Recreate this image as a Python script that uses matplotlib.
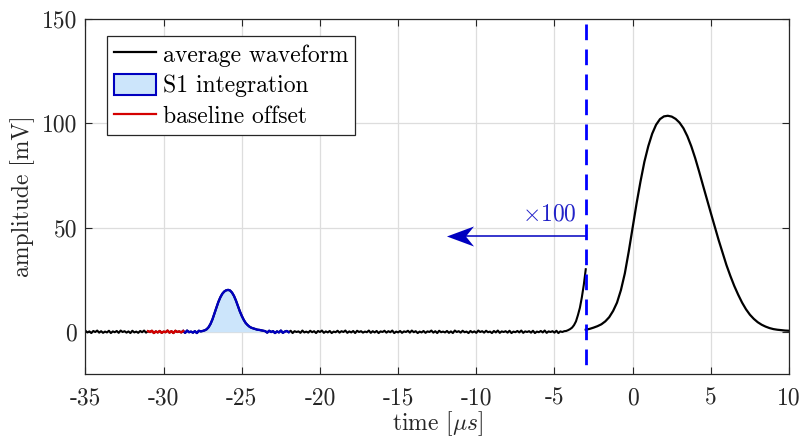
import matplotlib
matplotlib.use("Agg")
import matplotlib.pyplot as plt
import numpy as np
from matplotlib.patches import Patch
from matplotlib.lines import Line2D
from matplotlib.path import Path
from matplotlib.transforms import ScaledTranslation

plt.rcParams["font.family"] = "serif"
plt.rcParams["font.serif"] = ["cmr10"]
plt.rcParams["mathtext.fontset"] = "cm"
plt.rcParams["axes.unicode_minus"] = False
plt.rcParams["lines.scale_dashes"] = False

FS = 17

# pre-trigger part (-35 .. -3 us), shown x100, sampled every 0.125 us
PRE_START = -35.0
PRE_STEP = 0.125

# baseline noise, -35 .. -27.625 us
noise_a = [
    0.5, -0.3, 0.2, -0.6, 0.4, -0.1, 0.6, -0.4, 0.3, -0.5,
    0.1, -0.3, 0.5, -0.6, 0.2, -0.2, 0.4, -0.5, 0.6, -0.1,
    0.3, -0.4, 0.2, -0.6, 0.5, -0.3, 0.1, -0.5, 0.4, -0.2,
    0.6, -0.4, 0.3, -0.1, 0.5, -0.6, 0.2, -0.3, 0.4, -0.5,
    0.1, -0.2, 0.6, -0.4, 0.3, -0.6, 0.5, -0.1, 0.2, -0.3,
    0.4, -0.5, 0.6, -0.2, 0.1, -0.4, 0.3, -0.6, 0.5, 0.2,
]
# S1 pulse, -27.5 .. -23.5 us
s1_pulse = [
    0.4, 0.7, 1.2, 2.2, 3.8, 6.0, 8.8, 11.6, 14.3, 16.5, 18.2, 19.3, 19.9,
    20.1, 19.8, 18.8, 17.2, 15.0, 12.4, 9.8, 7.6, 5.7, 4.2, 3.2, 2.4, 1.9,
    1.6, 1.3, 1.0, 0.9, 0.7, 0.5, 0.3,
]
# baseline noise, -23.375 .. -4.375 us
noise_b = [
    -0.4, 0.5, -0.1, 0.3, -0.6, 0.2, -0.3, 0.6, -0.5, 0.1,
    0.4, -0.2, 0.5, -0.6, 0.3, -0.1, 0.2, -0.5, 0.6, -0.3,
    0.1, -0.4, 0.5, -0.2, 0.3, -0.6, 0.4, -0.1, 0.6, -0.5,
    0.2, -0.3, 0.4, -0.6, 0.1, -0.2, 0.5, -0.4, 0.3, -0.1,
    0.6, -0.5, 0.2, -0.3, 0.4, -0.6, 0.5, -0.1, 0.3, -0.4,
    0.1, -0.2, 0.6, -0.5, 0.3, -0.3, 0.4, -0.6, 0.2, -0.1,
    0.5, -0.4, 0.3, -0.2, 0.6, -0.6, 0.1, -0.3, 0.4, -0.5,
    0.2, -0.1, 0.5, -0.4, 0.6, -0.2, 0.3, -0.6, 0.1, -0.3,
    0.4, -0.5, 0.2, -0.1, 0.6, -0.4, 0.3, -0.6, 0.5, -0.2,
    0.1, -0.3, 0.4, -0.5, 0.2, -0.6, 0.6, -0.1, 0.3, -0.4,
    0.5, -0.2, 0.1, -0.6, 0.4, -0.3, 0.2, -0.5, 0.6, -0.1,
    0.3, -0.4, 0.5, -0.2, 0.1, -0.6, 0.4, -0.3, 0.6, -0.5,
    0.2, -0.1, 0.3, -0.4, 0.5, -0.6, 0.1, -0.2, 0.4, -0.3,
    0.6, -0.5, 0.2, -0.1, 0.3, -0.4, 0.5, -0.6, 0.1, -0.2,
    0.4, -0.3, 0.6, -0.5, 0.2, -0.1, 0.3, -0.4, 0.5, -0.6,
    0.2, -0.1, 0.3,
]
# start of main pulse seen x100, -4.25 .. -3 us
rise = [0.4, 0.8, 1.3, 2.0, 3.2, 5.0, 8.0, 11.5, 16.5, 22.5, 30.0]

# main pulse (unscaled), -3 .. 10 us every 0.25 us
POST_START = -3.0
POST_STEP = 0.25
post_amp = [
    1.0, 1.4, 2.0, 2.7, 3.6, 5.0, 7.0, 10.0, 14.0, 20.0, 28.0, 38.5,
    50.0, 61.5, 72.0, 81.5, 89.0, 95.0, 99.3, 102.0, 103.3, 103.6, 103.2, 102.1,
    100.3, 97.6, 93.8, 89.0, 83.3, 76.9, 70.2, 63.6, 57.0, 50.5, 44.0, 38.0,
    32.0, 26.8, 22.0, 17.8, 14.0, 10.8, 8.2, 6.2, 4.6, 3.4, 2.5, 1.8,
    1.3, 1.0, 0.8, 0.6, 0.5,
]

BASELINE_WIN = (-31.0, -28.75)
S1_WIN = (-28.75, -22.0)
S1_FILL = (-27.5, -23.75)
SCALE_T = -3.0
ARROW_Y = 46
ARROW_TIP = -11.9

pre_amp = np.array(noise_a + s1_pulse + noise_b + rise)
pre_time = PRE_START + PRE_STEP * np.arange(len(pre_amp))
post_time = POST_START + POST_STEP * np.arange(len(post_amp))

fig = plt.figure(figsize=(8.01, 4.37), dpi=100)
ax = fig.add_axes([0.1067, 0.1453, 0.8783, 0.8112])

ax.plot(pre_time, pre_amp, color="k", lw=1.5)
ax.plot(post_time, post_amp, color="k", lw=1.6)

fm = (pre_time >= S1_FILL[0]) & (pre_time <= S1_FILL[1])
ax.fill_between(pre_time[fm], 0, pre_amp[fm], color="#cce5fb", lw=0)

bm = (pre_time >= S1_WIN[0]) & (pre_time <= S1_WIN[1])
ax.plot(pre_time[bm], pre_amp[bm], color="#0000c0", lw=1.7)
rm = (pre_time >= BASELINE_WIN[0]) & (pre_time <= BASELINE_WIN[1])
ax.plot(pre_time[rm], pre_amp[rm], color="#d40000", lw=1.7)

# x100 boundary, dashed from the top down
ax.plot([SCALE_T, SCALE_T], [150, -20], color="#0000ff", lw=2.0,
        linestyle=(14.4, (11.3, 6.7)), zorder=3)

# arrow with a stealth head
ax.plot([SCALE_T, ARROW_TIP + 0.5], [ARROW_Y, ARROW_Y], color="#0000c0", lw=1.1)
stealth = Path([(-1, 0), (1, 0.74), (0.4, 0), (1, -0.74), (-1, 0)],
               [Path.MOVETO, Path.LINETO, Path.LINETO, Path.LINETO, Path.CLOSEPOLY])
ms = 19.5
ax.plot([ARROW_TIP], [ARROW_Y], marker=stealth, ms=ms, color="#0000c0", mew=0,
        transform=ax.transData + ScaledTranslation(ms / 2 / 72, 0, fig.dpi_scale_trans))
ax.text(-5.3, 56.5, r"$\times 100$", color="#2222c8", fontsize=FS, ha="center", va="center")

handles = [
    Line2D([], [], color="k", lw=1.6),
    Patch(facecolor="#cce5fb", edgecolor="#0000c0", lw=1.5),
    Line2D([], [], color="#d40000", lw=1.6),
]
leg = ax.legend(handles, ["average waveform", "S1 integration", "baseline offset"],
                loc="upper left", bbox_to_anchor=(0.031, 0.952), fontsize=FS,
                fancybox=False, framealpha=1, edgecolor="#262626",
                handlelength=1.75, handleheight=1.0, handletextpad=0.3,
                borderpad=0.3, labelspacing=0.3, borderaxespad=0)
leg.get_frame().set_linewidth(0.9)

ax.set_xlim(-35, 10)
ax.set_ylim(-20, 150)
ax.set_xticks(np.arange(-35, 11, 5))
ax.set_yticks([0, 50, 100, 150])
ax.grid(True, color="#dddddd", lw=0.9)
ax.set_axisbelow(True)
ax.tick_params(direction="in", top=True, right=True, length=5, width=0.8,
               colors="#262626", labelsize=FS, labelcolor="#262626")
ax.tick_params(axis="x", pad=10)
ax.tick_params(axis="y", pad=6)
for s in ax.spines.values():
    s.set_color("#262626")
    s.set_linewidth(0.9)

ax.set_xlabel(r"time [$\mu s$]", fontsize=FS, color="#262626", labelpad=0)
ax.set_ylabel("amplitude [mV]", fontsize=FS, color="#262626", labelpad=5)

fig.savefig("out.png", dpi=100)
